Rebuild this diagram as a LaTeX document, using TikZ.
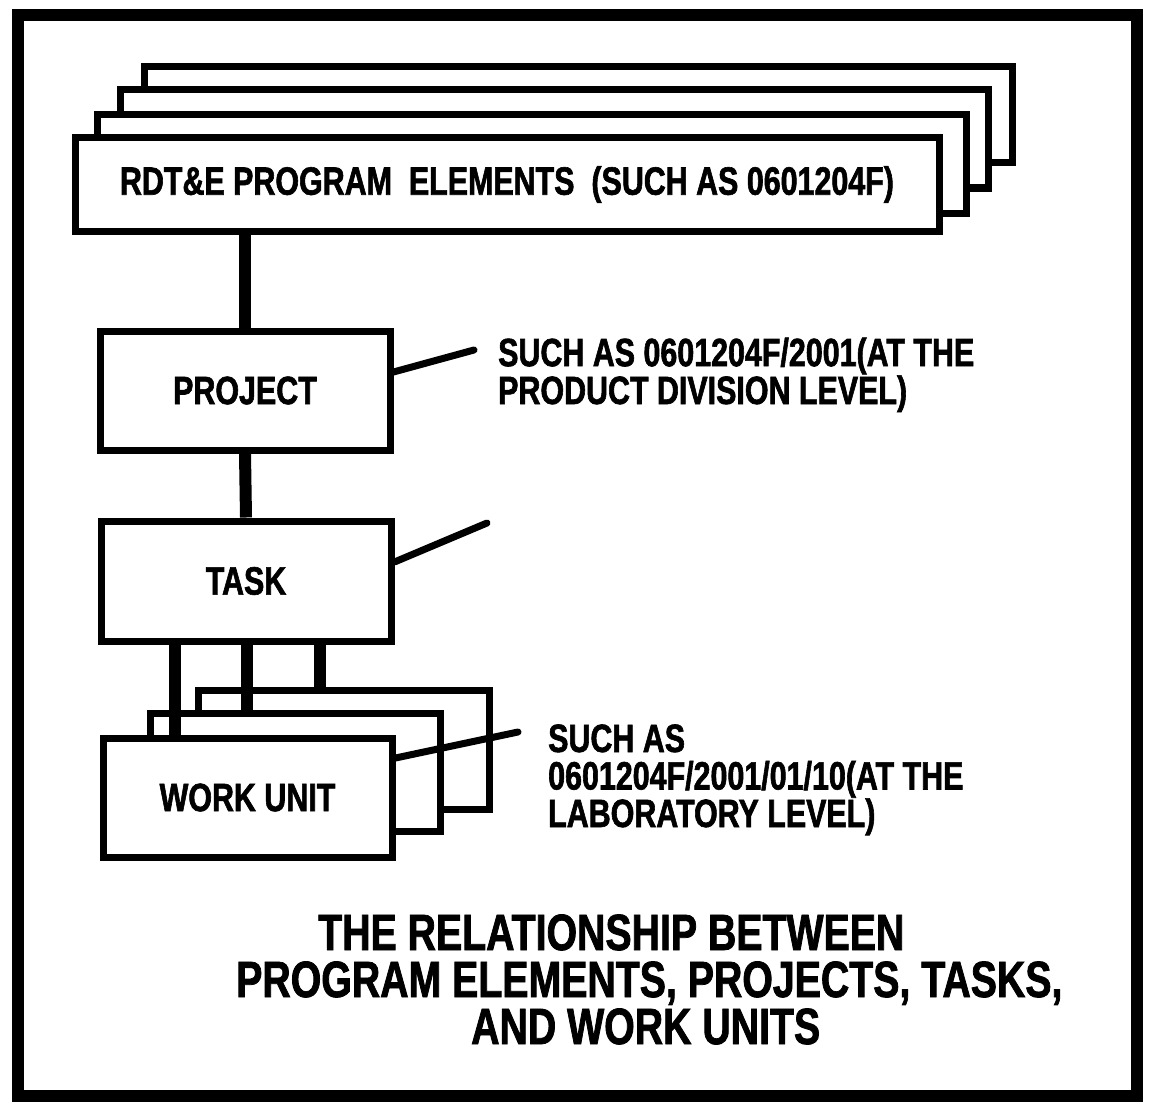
\documentclass[tikz,border=0pt]{standalone}
\usepackage{fontspec}
\setmainfont{Liberation Sans}[FakeStretch=0.77, BoldFeatures={FakeBold=1.5}]
\begin{document}
\begin{tikzpicture}[x=1pt,y=-1pt,
  box/.style={draw, line width=7pt, fill=white, inner sep=0pt},
  conn/.style={line width=12pt},
  ptr/.style={line width=7pt, line cap=round},
  lbl/.style={font=\bfseries\fontsize{39.5}{36}\selectfont},
  ttl/.style={font=\bfseries\fontsize{51}{47}\selectfont, inner sep=0pt},
]
\useasboundingbox (0,0) rectangle (1174,1102);
\draw[line width=12pt] (18,15) rectangle (1137,1096);
% program element stack
\node[box, minimum width=868pt, minimum height=96pt] (pe4) at (578,115) {};
\node[box, minimum width=868pt, minimum height=98pt] (pe3) at (554,139) {};
\node[box, minimum width=869pt, minimum height=98pt] (pe2) at (531.5,164) {};
\node[box, lbl, minimum width=864pt, minimum height=93pt] (pe1) at (507,184.5) {RDT\&E PROGRAM\ \ ELEMENTS\ \ (SUCH AS 0601204F)};
% project and task
\node[box, lbl, minimum width=290pt, minimum height=119pt] (proj) at (245,390.5) {PROJECT};
\node[box, lbl, minimum width=290pt, minimum height=120pt] (task) at (246,581) {TASK};
% work unit stack
\node[box, minimum width=291pt, minimum height=119pt] (wu3) at (343.5,749.5) {};
\node[box, minimum width=290pt, minimum height=118pt] (wu2) at (295,772) {};
\node[box, lbl, minimum width=289pt, minimum height=119pt] (wu1) at (247.5,797.5) {WORK UNIT};
% connectors
\draw[conn] (proj.north |- pe1.south) -- (proj.north);
\draw[conn] (proj.south) -- (task.north);
\draw[conn] ([xshift=-71pt]task.south) -- ([xshift=-71pt]task.south |- wu1.north);
\draw[conn] ([xshift=1pt]task.south) -- ([xshift=1pt]task.south |- wu2.north);
\draw[conn] ([xshift=74pt]task.south) -- ([xshift=74pt]task.south |- wu3.north);
% pointers
\coordinate (pp1) at (474,350);
\coordinate (pp2) at (487,523);
\coordinate (pp3) at (518,732);
\draw[ptr] ([yshift=18.5pt]proj.east) -- (pp1);
\draw[ptr] ([yshift=19pt]task.east) -- (pp2);
\draw[ptr] ([yshift=39.5pt]wu1.east) -- (pp3);
% notes (base anchor = baseline of last line)
\node[lbl, font=\bfseries\fontsize{39.5}{34}\selectfont, anchor=base west, align=left, inner sep=0pt] (projnote) at (498,404) {SUCH AS 0601204F/2001(AT THE\\PRODUCT DIVISION LEVEL)};
\node[lbl, font=\bfseries\fontsize{39.5}{37.5}\selectfont, anchor=base west, align=left, inner sep=0pt] (wunote) at (548,827) {SUCH AS\\0601204F/2001/01/10(AT THE\\LABORATORY LEVEL)};
% title
\node[ttl, anchor=base west] (t1) at (318,950) {THE RELATIONSHIP BETWEEN};
\node[ttl, anchor=base west] (t2) at (236,997) {PROGRAM ELEMENTS, PROJECTS, TASKS,};
\node[ttl, anchor=base west] (t3) at (471,1044) {AND WORK UNITS};
\end{tikzpicture}
\end{document}
